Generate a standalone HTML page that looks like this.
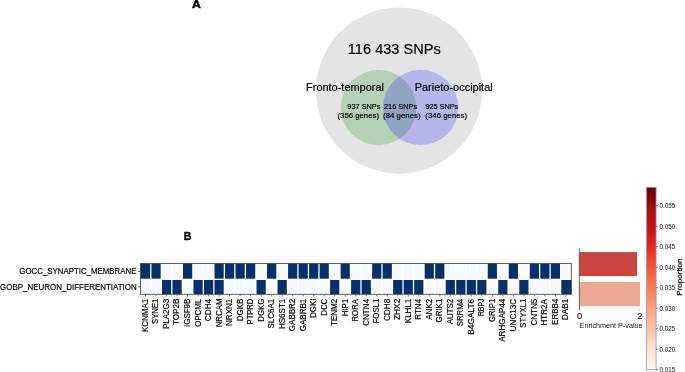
<!DOCTYPE html><html><head><meta charset="utf-8"><style>
html,body{margin:0;padding:0;background:#fff;width:685px;height:372px;overflow:hidden}
svg{display:block;will-change:transform;font-family:"Liberation Sans",sans-serif}
</style></head><body>
<svg width="685" height="372" viewBox="0 0 685 372">
<defs><linearGradient id="reds" x1="0" y1="1" x2="0" y2="0">
<stop offset="0.0000" stop-color="#fff5f0"/>
<stop offset="0.1250" stop-color="#fee0d2"/>
<stop offset="0.2500" stop-color="#fcbba1"/>
<stop offset="0.3750" stop-color="#fc9272"/>
<stop offset="0.5000" stop-color="#fb6a4a"/>
<stop offset="0.6250" stop-color="#ef3b2c"/>
<stop offset="0.7500" stop-color="#cb181d"/>
<stop offset="0.8750" stop-color="#a50f15"/>
<stop offset="1.0000" stop-color="#67000d"/>
</linearGradient>
<clipPath id="gc"><circle cx="378.6" cy="107.5" r="37.7"/></clipPath>
</defs>
<text x="192.10" y="7.90" font-size="11.45" font-weight="bold" fill="#000" stroke="#000" stroke-width="0.5" textLength="8.83" lengthAdjust="spacingAndGlyphs">A</text>
<circle cx="399.1" cy="90.6" r="83.1" fill="#e4e4e4"/>
<circle cx="378.6" cy="107.5" r="37.7" fill="rgb(182,208,182)"/>
<circle cx="420.6" cy="107.5" r="37.7" fill="rgb(182,182,234)"/>
<circle cx="420.6" cy="107.5" r="37.7" fill="rgb(145,164,196)" clip-path="url(#gc)"/>
<text x="347.85" y="54.05" font-size="14.63" fill="#000" stroke="#000" stroke-width="0.18" textLength="92.97" lengthAdjust="spacingAndGlyphs">116 433 SNPs</text>
<text x="306.10" y="90.70" font-size="10.18" fill="#000" stroke="#000" stroke-width="0.18" textLength="77.83" lengthAdjust="spacingAndGlyphs">Fronto-temporal</text>
<text x="414.70" y="90.80" font-size="10.18" fill="#000" stroke="#000" stroke-width="0.18" textLength="78.03" lengthAdjust="spacingAndGlyphs">Parieto-occipital</text>
<text x="347.36" y="108.95" font-size="7.31" fill="#000" stroke="#000" stroke-width="0.18" textLength="33.01" lengthAdjust="spacingAndGlyphs">937 SNPs</text>
<text x="337.52" y="117.90" font-size="7.31" fill="#000" stroke="#000" stroke-width="0.18" textLength="41.46" lengthAdjust="spacingAndGlyphs">(356 genes)</text>
<text x="384.03" y="108.95" font-size="7.31" fill="#000" stroke="#000" stroke-width="0.18" textLength="33.14" lengthAdjust="spacingAndGlyphs">216 SNPs</text>
<text x="383.11" y="117.90" font-size="7.31" fill="#000" stroke="#000" stroke-width="0.18" textLength="37.47" lengthAdjust="spacingAndGlyphs">(84 genes)</text>
<text x="425.46" y="108.95" font-size="7.31" fill="#000" stroke="#000" stroke-width="0.18" textLength="32.80" lengthAdjust="spacingAndGlyphs">925 SNPs</text>
<text x="425.31" y="117.90" font-size="7.31" fill="#000" stroke="#000" stroke-width="0.18" textLength="41.87" lengthAdjust="spacingAndGlyphs">(346 genes)</text>
<text x="183.69" y="239.90" font-size="11.34" font-weight="bold" fill="#000" stroke="#000" stroke-width="0.5" textLength="7.70" lengthAdjust="spacingAndGlyphs">B</text>
<rect x="140.5" y="263.4" width="430.85" height="30.90" fill="#fff"/>
<rect x="140.50" y="263.40" width="9.66" height="15.30" fill="#08306b"/>
<rect x="151.46" y="263.40" width="9.21" height="15.30" fill="#08306b"/>
<rect x="161.97" y="263.40" width="9.21" height="15.30" fill="#f7fbff"/>
<rect x="172.48" y="263.40" width="9.21" height="15.30" fill="#f7fbff"/>
<rect x="182.98" y="263.40" width="9.21" height="15.30" fill="#08306b"/>
<rect x="193.49" y="263.40" width="9.21" height="15.30" fill="#f7fbff"/>
<rect x="204.00" y="263.40" width="9.21" height="15.30" fill="#f7fbff"/>
<rect x="214.51" y="263.40" width="9.21" height="15.30" fill="#08306b"/>
<rect x="225.02" y="263.40" width="9.21" height="15.30" fill="#08306b"/>
<rect x="235.53" y="263.40" width="9.21" height="15.30" fill="#08306b"/>
<rect x="246.04" y="263.40" width="9.21" height="15.30" fill="#08306b"/>
<rect x="256.54" y="263.40" width="9.21" height="15.30" fill="#f7fbff"/>
<rect x="267.05" y="263.40" width="9.21" height="15.30" fill="#08306b"/>
<rect x="277.56" y="263.40" width="9.21" height="15.30" fill="#f7fbff"/>
<rect x="288.07" y="263.40" width="9.21" height="15.30" fill="#08306b"/>
<rect x="298.58" y="263.40" width="9.21" height="15.30" fill="#08306b"/>
<rect x="309.09" y="263.40" width="9.21" height="15.30" fill="#08306b"/>
<rect x="319.60" y="263.40" width="9.21" height="15.30" fill="#08306b"/>
<rect x="330.10" y="263.40" width="9.21" height="15.30" fill="#f7fbff"/>
<rect x="340.61" y="263.40" width="9.21" height="15.30" fill="#08306b"/>
<rect x="351.12" y="263.40" width="9.21" height="15.30" fill="#f7fbff"/>
<rect x="361.63" y="263.40" width="9.21" height="15.30" fill="#f7fbff"/>
<rect x="372.14" y="263.40" width="9.21" height="15.30" fill="#08306b"/>
<rect x="382.65" y="263.40" width="9.21" height="15.30" fill="#08306b"/>
<rect x="393.15" y="263.40" width="9.21" height="15.30" fill="#f7fbff"/>
<rect x="403.66" y="263.40" width="9.21" height="15.30" fill="#f7fbff"/>
<rect x="414.17" y="263.40" width="9.21" height="15.30" fill="#f7fbff"/>
<rect x="424.68" y="263.40" width="9.21" height="15.30" fill="#08306b"/>
<rect x="435.19" y="263.40" width="9.21" height="15.30" fill="#08306b"/>
<rect x="445.70" y="263.40" width="9.21" height="15.30" fill="#f7fbff"/>
<rect x="456.21" y="263.40" width="9.21" height="15.30" fill="#f7fbff"/>
<rect x="466.71" y="263.40" width="9.21" height="15.30" fill="#f7fbff"/>
<rect x="477.22" y="263.40" width="9.21" height="15.30" fill="#f7fbff"/>
<rect x="487.73" y="263.40" width="9.21" height="15.30" fill="#08306b"/>
<rect x="498.24" y="263.40" width="9.21" height="15.30" fill="#f7fbff"/>
<rect x="508.75" y="263.40" width="9.21" height="15.30" fill="#08306b"/>
<rect x="519.26" y="263.40" width="9.21" height="15.30" fill="#f7fbff"/>
<rect x="529.77" y="263.40" width="9.21" height="15.30" fill="#08306b"/>
<rect x="540.27" y="263.40" width="9.21" height="15.30" fill="#08306b"/>
<rect x="550.78" y="263.40" width="9.21" height="15.30" fill="#08306b"/>
<rect x="561.29" y="263.40" width="10.06" height="15.30" fill="#f7fbff"/>
<rect x="140.50" y="280.00" width="9.66" height="14.30" fill="#f7fbff"/>
<rect x="151.46" y="280.00" width="9.21" height="14.30" fill="#f7fbff"/>
<rect x="161.97" y="280.00" width="9.21" height="14.30" fill="#08306b"/>
<rect x="172.48" y="280.00" width="9.21" height="14.30" fill="#08306b"/>
<rect x="182.98" y="280.00" width="9.21" height="14.30" fill="#f7fbff"/>
<rect x="193.49" y="280.00" width="9.21" height="14.30" fill="#08306b"/>
<rect x="204.00" y="280.00" width="9.21" height="14.30" fill="#08306b"/>
<rect x="214.51" y="280.00" width="9.21" height="14.30" fill="#08306b"/>
<rect x="225.02" y="280.00" width="9.21" height="14.30" fill="#f7fbff"/>
<rect x="235.53" y="280.00" width="9.21" height="14.30" fill="#f7fbff"/>
<rect x="246.04" y="280.00" width="9.21" height="14.30" fill="#f7fbff"/>
<rect x="256.54" y="280.00" width="9.21" height="14.30" fill="#08306b"/>
<rect x="267.05" y="280.00" width="9.21" height="14.30" fill="#f7fbff"/>
<rect x="277.56" y="280.00" width="9.21" height="14.30" fill="#08306b"/>
<rect x="288.07" y="280.00" width="9.21" height="14.30" fill="#f7fbff"/>
<rect x="298.58" y="280.00" width="9.21" height="14.30" fill="#f7fbff"/>
<rect x="309.09" y="280.00" width="9.21" height="14.30" fill="#f7fbff"/>
<rect x="319.60" y="280.00" width="9.21" height="14.30" fill="#f7fbff"/>
<rect x="330.10" y="280.00" width="9.21" height="14.30" fill="#08306b"/>
<rect x="340.61" y="280.00" width="9.21" height="14.30" fill="#f7fbff"/>
<rect x="351.12" y="280.00" width="9.21" height="14.30" fill="#08306b"/>
<rect x="361.63" y="280.00" width="9.21" height="14.30" fill="#08306b"/>
<rect x="372.14" y="280.00" width="9.21" height="14.30" fill="#f7fbff"/>
<rect x="382.65" y="280.00" width="9.21" height="14.30" fill="#f7fbff"/>
<rect x="393.15" y="280.00" width="9.21" height="14.30" fill="#08306b"/>
<rect x="403.66" y="280.00" width="9.21" height="14.30" fill="#08306b"/>
<rect x="414.17" y="280.00" width="9.21" height="14.30" fill="#08306b"/>
<rect x="424.68" y="280.00" width="9.21" height="14.30" fill="#f7fbff"/>
<rect x="435.19" y="280.00" width="9.21" height="14.30" fill="#f7fbff"/>
<rect x="445.70" y="280.00" width="9.21" height="14.30" fill="#08306b"/>
<rect x="456.21" y="280.00" width="9.21" height="14.30" fill="#08306b"/>
<rect x="466.71" y="280.00" width="9.21" height="14.30" fill="#08306b"/>
<rect x="477.22" y="280.00" width="9.21" height="14.30" fill="#08306b"/>
<rect x="487.73" y="280.00" width="9.21" height="14.30" fill="#f7fbff"/>
<rect x="498.24" y="280.00" width="9.21" height="14.30" fill="#08306b"/>
<rect x="508.75" y="280.00" width="9.21" height="14.30" fill="#f7fbff"/>
<rect x="519.26" y="280.00" width="9.21" height="14.30" fill="#08306b"/>
<rect x="529.77" y="280.00" width="9.21" height="14.30" fill="#f7fbff"/>
<rect x="540.27" y="280.00" width="9.21" height="14.30" fill="#f7fbff"/>
<rect x="550.78" y="280.00" width="9.21" height="14.30" fill="#f7fbff"/>
<rect x="561.29" y="280.00" width="10.06" height="14.30" fill="#08306b"/>
<rect x="140.5" y="263.4" width="430.85" height="30.90" fill="none" stroke="#444" stroke-width="0.85"/>
<line x1="145.55" y1="294.3" x2="145.55" y2="296.5" stroke="#555" stroke-width="0.75"/>
<line x1="156.06" y1="294.3" x2="156.06" y2="296.5" stroke="#555" stroke-width="0.75"/>
<line x1="166.57" y1="294.3" x2="166.57" y2="296.5" stroke="#555" stroke-width="0.75"/>
<line x1="177.08" y1="294.3" x2="177.08" y2="296.5" stroke="#555" stroke-width="0.75"/>
<line x1="187.59" y1="294.3" x2="187.59" y2="296.5" stroke="#555" stroke-width="0.75"/>
<line x1="198.10" y1="294.3" x2="198.10" y2="296.5" stroke="#555" stroke-width="0.75"/>
<line x1="208.61" y1="294.3" x2="208.61" y2="296.5" stroke="#555" stroke-width="0.75"/>
<line x1="219.11" y1="294.3" x2="219.11" y2="296.5" stroke="#555" stroke-width="0.75"/>
<line x1="229.62" y1="294.3" x2="229.62" y2="296.5" stroke="#555" stroke-width="0.75"/>
<line x1="240.13" y1="294.3" x2="240.13" y2="296.5" stroke="#555" stroke-width="0.75"/>
<line x1="250.64" y1="294.3" x2="250.64" y2="296.5" stroke="#555" stroke-width="0.75"/>
<line x1="261.15" y1="294.3" x2="261.15" y2="296.5" stroke="#555" stroke-width="0.75"/>
<line x1="271.66" y1="294.3" x2="271.66" y2="296.5" stroke="#555" stroke-width="0.75"/>
<line x1="282.17" y1="294.3" x2="282.17" y2="296.5" stroke="#555" stroke-width="0.75"/>
<line x1="292.67" y1="294.3" x2="292.67" y2="296.5" stroke="#555" stroke-width="0.75"/>
<line x1="303.18" y1="294.3" x2="303.18" y2="296.5" stroke="#555" stroke-width="0.75"/>
<line x1="313.69" y1="294.3" x2="313.69" y2="296.5" stroke="#555" stroke-width="0.75"/>
<line x1="324.20" y1="294.3" x2="324.20" y2="296.5" stroke="#555" stroke-width="0.75"/>
<line x1="334.71" y1="294.3" x2="334.71" y2="296.5" stroke="#555" stroke-width="0.75"/>
<line x1="345.22" y1="294.3" x2="345.22" y2="296.5" stroke="#555" stroke-width="0.75"/>
<line x1="355.73" y1="294.3" x2="355.73" y2="296.5" stroke="#555" stroke-width="0.75"/>
<line x1="366.23" y1="294.3" x2="366.23" y2="296.5" stroke="#555" stroke-width="0.75"/>
<line x1="376.74" y1="294.3" x2="376.74" y2="296.5" stroke="#555" stroke-width="0.75"/>
<line x1="387.25" y1="294.3" x2="387.25" y2="296.5" stroke="#555" stroke-width="0.75"/>
<line x1="397.76" y1="294.3" x2="397.76" y2="296.5" stroke="#555" stroke-width="0.75"/>
<line x1="408.27" y1="294.3" x2="408.27" y2="296.5" stroke="#555" stroke-width="0.75"/>
<line x1="418.78" y1="294.3" x2="418.78" y2="296.5" stroke="#555" stroke-width="0.75"/>
<line x1="429.28" y1="294.3" x2="429.28" y2="296.5" stroke="#555" stroke-width="0.75"/>
<line x1="439.79" y1="294.3" x2="439.79" y2="296.5" stroke="#555" stroke-width="0.75"/>
<line x1="450.30" y1="294.3" x2="450.30" y2="296.5" stroke="#555" stroke-width="0.75"/>
<line x1="460.81" y1="294.3" x2="460.81" y2="296.5" stroke="#555" stroke-width="0.75"/>
<line x1="471.32" y1="294.3" x2="471.32" y2="296.5" stroke="#555" stroke-width="0.75"/>
<line x1="481.83" y1="294.3" x2="481.83" y2="296.5" stroke="#555" stroke-width="0.75"/>
<line x1="492.34" y1="294.3" x2="492.34" y2="296.5" stroke="#555" stroke-width="0.75"/>
<line x1="502.84" y1="294.3" x2="502.84" y2="296.5" stroke="#555" stroke-width="0.75"/>
<line x1="513.35" y1="294.3" x2="513.35" y2="296.5" stroke="#555" stroke-width="0.75"/>
<line x1="523.86" y1="294.3" x2="523.86" y2="296.5" stroke="#555" stroke-width="0.75"/>
<line x1="534.37" y1="294.3" x2="534.37" y2="296.5" stroke="#555" stroke-width="0.75"/>
<line x1="544.88" y1="294.3" x2="544.88" y2="296.5" stroke="#555" stroke-width="0.75"/>
<line x1="555.39" y1="294.3" x2="555.39" y2="296.5" stroke="#555" stroke-width="0.75"/>
<line x1="565.90" y1="294.3" x2="565.90" y2="296.5" stroke="#555" stroke-width="0.75"/>
<line x1="150.81" y1="294.3" x2="150.81" y2="295.90000000000003" stroke="#ccc" stroke-width="0.6"/>
<line x1="161.32" y1="294.3" x2="161.32" y2="295.90000000000003" stroke="#ccc" stroke-width="0.6"/>
<line x1="171.83" y1="294.3" x2="171.83" y2="295.90000000000003" stroke="#ccc" stroke-width="0.6"/>
<line x1="182.33" y1="294.3" x2="182.33" y2="295.90000000000003" stroke="#ccc" stroke-width="0.6"/>
<line x1="192.84" y1="294.3" x2="192.84" y2="295.90000000000003" stroke="#ccc" stroke-width="0.6"/>
<line x1="203.35" y1="294.3" x2="203.35" y2="295.90000000000003" stroke="#ccc" stroke-width="0.6"/>
<line x1="213.86" y1="294.3" x2="213.86" y2="295.90000000000003" stroke="#ccc" stroke-width="0.6"/>
<line x1="224.37" y1="294.3" x2="224.37" y2="295.90000000000003" stroke="#ccc" stroke-width="0.6"/>
<line x1="234.88" y1="294.3" x2="234.88" y2="295.90000000000003" stroke="#ccc" stroke-width="0.6"/>
<line x1="245.39" y1="294.3" x2="245.39" y2="295.90000000000003" stroke="#ccc" stroke-width="0.6"/>
<line x1="255.89" y1="294.3" x2="255.89" y2="295.90000000000003" stroke="#ccc" stroke-width="0.6"/>
<line x1="266.40" y1="294.3" x2="266.40" y2="295.90000000000003" stroke="#ccc" stroke-width="0.6"/>
<line x1="276.91" y1="294.3" x2="276.91" y2="295.90000000000003" stroke="#ccc" stroke-width="0.6"/>
<line x1="287.42" y1="294.3" x2="287.42" y2="295.90000000000003" stroke="#ccc" stroke-width="0.6"/>
<line x1="297.93" y1="294.3" x2="297.93" y2="295.90000000000003" stroke="#ccc" stroke-width="0.6"/>
<line x1="308.44" y1="294.3" x2="308.44" y2="295.90000000000003" stroke="#ccc" stroke-width="0.6"/>
<line x1="318.95" y1="294.3" x2="318.95" y2="295.90000000000003" stroke="#ccc" stroke-width="0.6"/>
<line x1="329.45" y1="294.3" x2="329.45" y2="295.90000000000003" stroke="#ccc" stroke-width="0.6"/>
<line x1="339.96" y1="294.3" x2="339.96" y2="295.90000000000003" stroke="#ccc" stroke-width="0.6"/>
<line x1="350.47" y1="294.3" x2="350.47" y2="295.90000000000003" stroke="#ccc" stroke-width="0.6"/>
<line x1="360.98" y1="294.3" x2="360.98" y2="295.90000000000003" stroke="#ccc" stroke-width="0.6"/>
<line x1="371.49" y1="294.3" x2="371.49" y2="295.90000000000003" stroke="#ccc" stroke-width="0.6"/>
<line x1="382.00" y1="294.3" x2="382.00" y2="295.90000000000003" stroke="#ccc" stroke-width="0.6"/>
<line x1="392.50" y1="294.3" x2="392.50" y2="295.90000000000003" stroke="#ccc" stroke-width="0.6"/>
<line x1="403.01" y1="294.3" x2="403.01" y2="295.90000000000003" stroke="#ccc" stroke-width="0.6"/>
<line x1="413.52" y1="294.3" x2="413.52" y2="295.90000000000003" stroke="#ccc" stroke-width="0.6"/>
<line x1="424.03" y1="294.3" x2="424.03" y2="295.90000000000003" stroke="#ccc" stroke-width="0.6"/>
<line x1="434.54" y1="294.3" x2="434.54" y2="295.90000000000003" stroke="#ccc" stroke-width="0.6"/>
<line x1="445.05" y1="294.3" x2="445.05" y2="295.90000000000003" stroke="#ccc" stroke-width="0.6"/>
<line x1="455.56" y1="294.3" x2="455.56" y2="295.90000000000003" stroke="#ccc" stroke-width="0.6"/>
<line x1="466.06" y1="294.3" x2="466.06" y2="295.90000000000003" stroke="#ccc" stroke-width="0.6"/>
<line x1="476.57" y1="294.3" x2="476.57" y2="295.90000000000003" stroke="#ccc" stroke-width="0.6"/>
<line x1="487.08" y1="294.3" x2="487.08" y2="295.90000000000003" stroke="#ccc" stroke-width="0.6"/>
<line x1="497.59" y1="294.3" x2="497.59" y2="295.90000000000003" stroke="#ccc" stroke-width="0.6"/>
<line x1="508.10" y1="294.3" x2="508.10" y2="295.90000000000003" stroke="#ccc" stroke-width="0.6"/>
<line x1="518.61" y1="294.3" x2="518.61" y2="295.90000000000003" stroke="#ccc" stroke-width="0.6"/>
<line x1="529.12" y1="294.3" x2="529.12" y2="295.90000000000003" stroke="#ccc" stroke-width="0.6"/>
<line x1="539.62" y1="294.3" x2="539.62" y2="295.90000000000003" stroke="#ccc" stroke-width="0.6"/>
<line x1="550.13" y1="294.3" x2="550.13" y2="295.90000000000003" stroke="#ccc" stroke-width="0.6"/>
<line x1="560.64" y1="294.3" x2="560.64" y2="295.90000000000003" stroke="#ccc" stroke-width="0.6"/>
<line x1="138.1" y1="271.40" x2="140.5" y2="271.40" stroke="#333" stroke-width="0.8"/>
<line x1="138.1" y1="286.80" x2="140.5" y2="286.80" stroke="#333" stroke-width="0.8"/>
<text x="19.30" y="274.00" font-size="8.37" fill="#000" stroke="#000" stroke-width="0.18" textLength="117.13" lengthAdjust="spacingAndGlyphs">GOCC_SYNAPTIC_MEMBRANE</text>
<text x="0.10" y="289.50" font-size="8.37" fill="#000" stroke="#000" stroke-width="0.18" textLength="136.64" lengthAdjust="spacingAndGlyphs">GOBP_NEURON_DIFFERENTIATION</text>
<text transform="translate(147.95,332.11) rotate(-90)" font-size="8.37" fill="#000" stroke="#000" stroke-width="0.18" textLength="33.40" lengthAdjust="spacingAndGlyphs">KCNMA1</text>
<text transform="translate(158.46,323.97) rotate(-90)" font-size="8.37" fill="#000" stroke="#000" stroke-width="0.18" textLength="25.24" lengthAdjust="spacingAndGlyphs">SYNE1</text>
<text transform="translate(168.97,329.09) rotate(-90)" font-size="8.37" fill="#000" stroke="#000" stroke-width="0.18" textLength="30.35" lengthAdjust="spacingAndGlyphs">PLA2G3</text>
<text transform="translate(179.48,325.00) rotate(-90)" font-size="8.37" fill="#000" stroke="#000" stroke-width="0.18" textLength="26.32" lengthAdjust="spacingAndGlyphs">TOP2B</text>
<text transform="translate(189.99,326.96) rotate(-90)" font-size="8.37" fill="#000" stroke="#000" stroke-width="0.18" textLength="28.27" lengthAdjust="spacingAndGlyphs">IGSF9B</text>
<text transform="translate(200.50,326.70) rotate(-90)" font-size="8.37" fill="#000" stroke="#000" stroke-width="0.18" textLength="27.86" lengthAdjust="spacingAndGlyphs">OPCML</text>
<text transform="translate(211.01,321.20) rotate(-90)" font-size="8.37" fill="#000" stroke="#000" stroke-width="0.18" textLength="22.34" lengthAdjust="spacingAndGlyphs">CDH4</text>
<text transform="translate(221.51,327.33) rotate(-90)" font-size="8.37" fill="#000" stroke="#000" stroke-width="0.18" textLength="28.88" lengthAdjust="spacingAndGlyphs">NRCAM</text>
<text transform="translate(232.02,326.00) rotate(-90)" font-size="8.37" fill="#000" stroke="#000" stroke-width="0.18" textLength="27.30" lengthAdjust="spacingAndGlyphs">NRXN1</text>
<text transform="translate(242.53,321.22) rotate(-90)" font-size="8.37" fill="#000" stroke="#000" stroke-width="0.18" textLength="22.54" lengthAdjust="spacingAndGlyphs">DGKB</text>
<text transform="translate(253.04,324.40) rotate(-90)" font-size="8.37" fill="#000" stroke="#000" stroke-width="0.18" textLength="25.67" lengthAdjust="spacingAndGlyphs">PTPRD</text>
<text transform="translate(263.55,321.83) rotate(-90)" font-size="8.37" fill="#000" stroke="#000" stroke-width="0.18" textLength="23.33" lengthAdjust="spacingAndGlyphs">DGKG</text>
<text transform="translate(274.06,328.60) rotate(-90)" font-size="8.37" fill="#000" stroke="#000" stroke-width="0.18" textLength="29.90" lengthAdjust="spacingAndGlyphs">SLC6A1</text>
<text transform="translate(284.57,329.10) rotate(-90)" font-size="8.37" fill="#000" stroke="#000" stroke-width="0.18" textLength="30.40" lengthAdjust="spacingAndGlyphs">HS6ST1</text>
<text transform="translate(295.07,331.15) rotate(-90)" font-size="8.37" fill="#000" stroke="#000" stroke-width="0.18" textLength="32.45" lengthAdjust="spacingAndGlyphs">GABBR2</text>
<text transform="translate(305.58,331.21) rotate(-90)" font-size="8.37" fill="#000" stroke="#000" stroke-width="0.18" textLength="32.50" lengthAdjust="spacingAndGlyphs">GABRB1</text>
<text transform="translate(316.09,317.92) rotate(-90)" font-size="8.37" fill="#000" stroke="#000" stroke-width="0.18" textLength="19.56" lengthAdjust="spacingAndGlyphs">DGKI</text>
<text transform="translate(326.60,315.65) rotate(-90)" font-size="8.37" fill="#000" stroke="#000" stroke-width="0.18" textLength="16.85" lengthAdjust="spacingAndGlyphs">DCC</text>
<text transform="translate(337.11,326.08) rotate(-90)" font-size="8.37" fill="#000" stroke="#000" stroke-width="0.18" textLength="27.39" lengthAdjust="spacingAndGlyphs">TENM2</text>
<text transform="translate(347.62,316.31) rotate(-90)" font-size="8.37" fill="#000" stroke="#000" stroke-width="0.18" textLength="17.59" lengthAdjust="spacingAndGlyphs">HIP1</text>
<text transform="translate(358.12,321.50) rotate(-90)" font-size="8.37" fill="#000" stroke="#000" stroke-width="0.18" textLength="22.41" lengthAdjust="spacingAndGlyphs">RORA</text>
<text transform="translate(368.63,325.81) rotate(-90)" font-size="8.37" fill="#000" stroke="#000" stroke-width="0.18" textLength="26.95" lengthAdjust="spacingAndGlyphs">CNTN4</text>
<text transform="translate(379.14,323.44) rotate(-90)" font-size="8.37" fill="#000" stroke="#000" stroke-width="0.18" textLength="24.72" lengthAdjust="spacingAndGlyphs">FOSL1</text>
<text transform="translate(389.65,321.10) rotate(-90)" font-size="8.37" fill="#000" stroke="#000" stroke-width="0.18" textLength="22.36" lengthAdjust="spacingAndGlyphs">CDH8</text>
<text transform="translate(400.16,320.01) rotate(-90)" font-size="8.37" fill="#000" stroke="#000" stroke-width="0.18" textLength="21.33" lengthAdjust="spacingAndGlyphs">ZHX2</text>
<text transform="translate(410.67,323.20) rotate(-90)" font-size="8.37" fill="#000" stroke="#000" stroke-width="0.18" textLength="24.49" lengthAdjust="spacingAndGlyphs">KLHL1</text>
<text transform="translate(421.18,319.79) rotate(-90)" font-size="8.37" fill="#000" stroke="#000" stroke-width="0.18" textLength="20.92" lengthAdjust="spacingAndGlyphs">RTN4</text>
<text transform="translate(431.68,319.78) rotate(-90)" font-size="8.37" fill="#000" stroke="#000" stroke-width="0.18" textLength="21.09" lengthAdjust="spacingAndGlyphs">ANK2</text>
<text transform="translate(442.19,322.47) rotate(-90)" font-size="8.37" fill="#000" stroke="#000" stroke-width="0.18" textLength="23.76" lengthAdjust="spacingAndGlyphs">GRIK1</text>
<text transform="translate(452.70,324.32) rotate(-90)" font-size="8.37" fill="#000" stroke="#000" stroke-width="0.18" textLength="25.62" lengthAdjust="spacingAndGlyphs">AUTS2</text>
<text transform="translate(463.21,326.33) rotate(-90)" font-size="8.37" fill="#000" stroke="#000" stroke-width="0.18" textLength="27.46" lengthAdjust="spacingAndGlyphs">SRRM4</text>
<text transform="translate(473.72,334.72) rotate(-90)" font-size="8.37" fill="#000" stroke="#000" stroke-width="0.18" textLength="35.98" lengthAdjust="spacingAndGlyphs">B4GALT6</text>
<text transform="translate(484.23,316.11) rotate(-90)" font-size="8.37" fill="#000" stroke="#000" stroke-width="0.18" textLength="17.52" lengthAdjust="spacingAndGlyphs">RBPJ</text>
<text transform="translate(494.74,322.05) rotate(-90)" font-size="8.37" fill="#000" stroke="#000" stroke-width="0.18" textLength="23.33" lengthAdjust="spacingAndGlyphs">GRIP1</text>
<text transform="translate(505.24,341.79) rotate(-90)" font-size="8.37" fill="#000" stroke="#000" stroke-width="0.18" textLength="42.92" lengthAdjust="spacingAndGlyphs">ARHGAP44</text>
<text transform="translate(515.75,331.39) rotate(-90)" font-size="8.37" fill="#000" stroke="#000" stroke-width="0.18" textLength="32.60" lengthAdjust="spacingAndGlyphs">UNC13C</text>
<text transform="translate(526.26,327.71) rotate(-90)" font-size="8.37" fill="#000" stroke="#000" stroke-width="0.18" textLength="28.99" lengthAdjust="spacingAndGlyphs">STYXL1</text>
<text transform="translate(536.77,325.56) rotate(-90)" font-size="8.37" fill="#000" stroke="#000" stroke-width="0.18" textLength="26.80" lengthAdjust="spacingAndGlyphs">CNTN5</text>
<text transform="translate(547.28,325.61) rotate(-90)" font-size="8.37" fill="#000" stroke="#000" stroke-width="0.18" textLength="26.52" lengthAdjust="spacingAndGlyphs">HTR2A</text>
<text transform="translate(557.79,324.88) rotate(-90)" font-size="8.37" fill="#000" stroke="#000" stroke-width="0.18" textLength="26.01" lengthAdjust="spacingAndGlyphs">ERBB4</text>
<text transform="translate(568.30,320.20) rotate(-90)" font-size="8.37" fill="#000" stroke="#000" stroke-width="0.18" textLength="21.51" lengthAdjust="spacingAndGlyphs">DAB1</text>
<rect x="579.3" y="252.1" width="57.7" height="24.0" fill="#c94541"/>
<rect x="579.3" y="282.0" width="60.7" height="24.2" fill="#eda893"/>
<line x1="579.3" y1="248.1" x2="579.3" y2="310.6" stroke="#444" stroke-width="0.8"/>
<text x="577.02" y="319.10" font-size="9.33" fill="#000" stroke="#000" stroke-width="0.08" textLength="5.35" lengthAdjust="spacingAndGlyphs">0</text>
<line x1="639.7" y1="309.2" x2="639.7" y2="310.8" stroke="#999" stroke-width="0.7"/>
<text x="637.34" y="319.10" font-size="9.33" fill="#000" stroke="#000" stroke-width="0.08" textLength="5.13" lengthAdjust="spacingAndGlyphs">2</text>
<text x="579.61" y="327.80" font-size="6.89" fill="#111" textLength="62.91" lengthAdjust="spacingAndGlyphs">Enrichment P-value</text>
<rect x="646.6" y="187.3" width="9.5" height="182.4" fill="url(#reds)" stroke="#9a9a9a" stroke-width="0.8"/>
<line x1="656.1" y1="369.70" x2="658.0" y2="369.70" stroke="#333" stroke-width="0.7"/>
<text x="659.56" y="372.05" font-size="6.47" fill="#111" textLength="15.61" lengthAdjust="spacingAndGlyphs">0.015</text>
<line x1="656.1" y1="349.20" x2="658.0" y2="349.20" stroke="#333" stroke-width="0.7"/>
<text x="659.56" y="351.55" font-size="6.47" fill="#111" textLength="15.59" lengthAdjust="spacingAndGlyphs">0.020</text>
<line x1="656.1" y1="328.70" x2="658.0" y2="328.70" stroke="#333" stroke-width="0.7"/>
<text x="659.56" y="331.05" font-size="6.47" fill="#111" textLength="15.61" lengthAdjust="spacingAndGlyphs">0.025</text>
<line x1="656.1" y1="308.20" x2="658.0" y2="308.20" stroke="#333" stroke-width="0.7"/>
<text x="659.56" y="310.55" font-size="6.47" fill="#111" textLength="15.59" lengthAdjust="spacingAndGlyphs">0.030</text>
<line x1="656.1" y1="287.70" x2="658.0" y2="287.70" stroke="#333" stroke-width="0.7"/>
<text x="659.56" y="290.05" font-size="6.47" fill="#111" textLength="15.61" lengthAdjust="spacingAndGlyphs">0.035</text>
<line x1="656.1" y1="267.20" x2="658.0" y2="267.20" stroke="#333" stroke-width="0.7"/>
<text x="659.56" y="269.55" font-size="6.47" fill="#111" textLength="15.59" lengthAdjust="spacingAndGlyphs">0.040</text>
<line x1="656.1" y1="246.70" x2="658.0" y2="246.70" stroke="#333" stroke-width="0.7"/>
<text x="659.56" y="249.05" font-size="6.47" fill="#111" textLength="15.61" lengthAdjust="spacingAndGlyphs">0.045</text>
<line x1="656.1" y1="226.20" x2="658.0" y2="226.20" stroke="#333" stroke-width="0.7"/>
<text x="659.56" y="228.55" font-size="6.47" fill="#111" textLength="15.59" lengthAdjust="spacingAndGlyphs">0.050</text>
<line x1="656.1" y1="205.70" x2="658.0" y2="205.70" stroke="#333" stroke-width="0.7"/>
<text x="659.56" y="208.05" font-size="6.47" fill="#111" textLength="15.61" lengthAdjust="spacingAndGlyphs">0.055</text>
<text transform="translate(682.30,295.86) rotate(-90)" font-size="7.63" fill="#000" stroke="#000" stroke-width="0.18" textLength="37.39" lengthAdjust="spacingAndGlyphs">Proportion</text>
</svg></body></html>
